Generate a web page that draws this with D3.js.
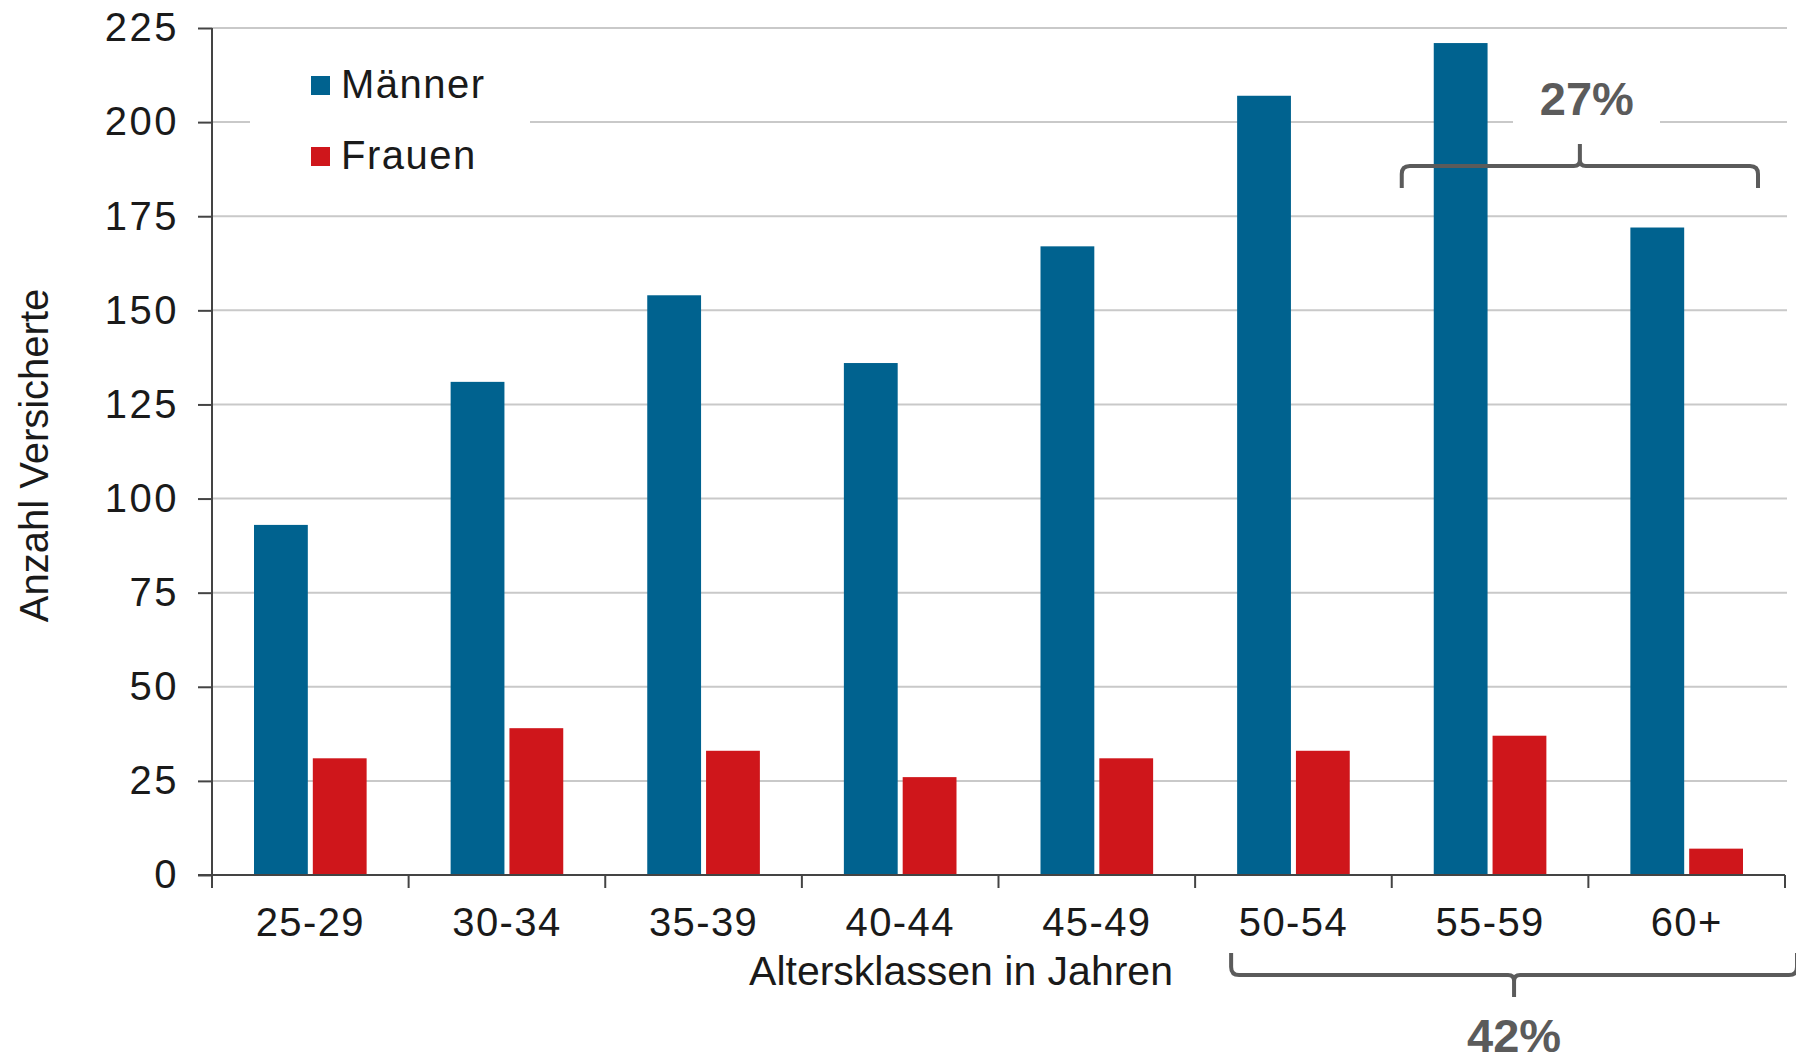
<!DOCTYPE html>
<html>
<head>
<meta charset="utf-8">
<script src="https://cdn.jsdelivr.net/npm/d3@7"></script>
<style>
    body { margin: 0; background: #fff; }
    svg { display: block; }
    text { font-family: Arial, "Liberation Sans", sans-serif; fill: #1a1a1a; }
</style>
</head>
<body>
<div id="chart"></div>
<script>
'use strict';

// Data
const ageGroups = ['25-29', '30-34', '35-39', '40-44', '45-49', '50-54', '55-59', '60+'];
const seriesNames = ['Männer', 'Frauen'];
const maenner = [93, 131, 154, 136, 167, 207, 221, 172];
const frauen = [31, 39, 33, 26, 31, 33, 37, 7];
const yTicks = [0, 25, 50, 75, 100, 125, 150, 175, 200, 225];
const bracketLabels = ['27%', '42%'];
const bracketFrom = ['55-59', '50-54'];
const bracketTo = ['60+', '60+'];

// Config
const svgW = 1796;
const svgH = 1054;
const margin = {top: 28, right: 11, bottom: 179, left: 212};
const colors = {'Männer': '#00628f', 'Frauen': '#cf161b'};

const svg = d3.select('#chart')
    .append('svg')
    .attr('width', svgW)
    .attr('height', svgH);

// Scales
const x = d3.scaleBand()
    .domain(ageGroups)
    .range([margin.left, svgW - margin.right]);
const bw = x.bandwidth();
const xInner = d3.scaleBand()
    .domain(seriesNames)
    .range([42, bw - 42])
    .paddingInner(0.085);
const y = d3.scaleLinear()
    .domain([0, 225])
    .range([svgH - margin.bottom, margin.top]);

// Gridlines
svg.append('g')
    .attr('class', 'grid')
    .selectAll('line')
    .data(yTicks.filter(d => d > 0))
    .join('line')
    .attr('x1', margin.left)
    .attr('x2', svgW - margin.right + 2)
    .attr('y1', d => y(d))
    .attr('y2', d => y(d))
    .attr('stroke', '#c9c9c9')
    .attr('stroke-width', 2);

// Bars
const rows = ageGroups.map((g, i) => ({group: g, values: [
    {key: 'Männer', value: maenner[i]},
    {key: 'Frauen', value: frauen[i]}
]}));
svg.append('g')
    .selectAll('g')
    .data(rows)
    .join('g')
    .attr('transform', d => `translate(${x(d.group)},0)`)
    .selectAll('rect')
    .data(d => d.values)
    .join('rect')
    .attr('x', d => xInner(d.key))
    .attr('width', xInner.bandwidth())
    .attr('y', d => y(d.value))
    .attr('height', d => y(0) - y(d.value))
    .attr('fill', d => colors[d.key]);

// Y axis
const yAxis = svg.append('g')
    .attr('transform', `translate(${margin.left},0)`)
    .call(d3.axisLeft(y).tickValues(yTicks).tickSize(14).tickPadding(19));
yAxis.select('.domain').attr('stroke', '#444').attr('stroke-width', 2)
    .attr('d', `M0,${y(225)}V${y(0) + 12}`);
yAxis.selectAll('.tick line').attr('stroke', '#444').attr('stroke-width', 2);
yAxis.selectAll('.tick text')
    .style('font-size', '40px')
    .style('letter-spacing', '2.5px')
    .style('font-family', 'Arial, "Liberation Sans", sans-serif')
    .attr('fill', '#1a1a1a');

// X axis
const xAxis = svg.append('g')
    .attr('transform', `translate(0,${y(0)})`)
    .call(d3.axisBottom(x).tickSize(0).tickPadding(33));
xAxis.select('.domain').attr('stroke', '#444').attr('stroke-width', 2)
    .attr('d', `M${margin.left - 14},0H${svgW - margin.right}`);
xAxis.selectAll('.sep')
    .data(ageGroups.concat(['end']))
    .join('line')
    .attr('class', 'sep')
    .attr('x1', d => d === 'end' ? x.range()[1] : x(d))
    .attr('x2', d => d === 'end' ? x.range()[1] : x(d))
    .attr('y1', 0)
    .attr('y2', 13)
    .attr('stroke', '#444')
    .attr('stroke-width', 2);
xAxis.selectAll('.tick text')
    .style('font-size', '40px')
    .style('letter-spacing', '1.4px')
    .style('font-family', 'Arial, "Liberation Sans", sans-serif')
    .attr('fill', '#1a1a1a');

// Axis titles
svg.append('text')
    .attr('transform', `translate(48,${(y(0) + y(225)) / 2 + 4}) rotate(-90)`)
    .attr('text-anchor', 'middle')
    .style('font-size', '40px')
    .text('Anzahl Versicherte');
svg.append('text')
    .attr('x', 961)
    .attr('y', 985)
    .attr('text-anchor', 'middle')
    .style('font-size', '41px')
    .text('Altersklassen in Jahren');

// Legend
const legend = svg.append('g').attr('transform', 'translate(250,45)');
legend.append('rect')
    .attr('width', 280)
    .attr('height', 150)
    .attr('fill', '#fff');
const legendItems = legend.selectAll('.legendItem')
    .data(seriesNames)
    .join('g')
    .attr('class', 'legendItem')
    .attr('transform', (d, i) => `translate(61,${31 + i * 71})`);
legendItems.append('rect')
    .attr('width', 19)
    .attr('height', 19)
    .attr('fill', d => colors[d]);
legendItems.append('text')
    .attr('x', 30)
    .attr('y', 22)
    .style('font-size', '40px')
    .style('letter-spacing', '1.5px')
    .text(d => d);

// Brackets
const bracketColor = '#5b5b5b';
bracketLabels.forEach((label, i) => {
    const x0 = i === 0 ? x(bracketFrom[i]) + 10 : x(bracketFrom[i]) + 36;
    const x1 = i === 0 ? x(bracketTo[i]) + bw - 27 : x(bracketTo[i]) + bw + 12;
    const cx = (x0 + x1) / 2;
    const up = i === 0;               // top bracket opens downward
    const yl = up ? 166 : 975;        // horizontal line
    const dir = up ? 1 : -1;          // direction of the end legs
    const legEnd = yl + dir * 22;
    const spikeEnd = yl - dir * 22;
    const r = 8;
    const path = `M${x0},${legEnd}` +
        `V${yl + dir * r}Q${x0},${yl} ${x0 + r},${yl}` +
        `H${cx - 6}Q${cx},${yl} ${cx},${yl - dir * 6}V${spikeEnd}` +
        `M${cx},${yl - dir * 6}Q${cx},${yl} ${cx + 6},${yl}` +
        `H${x1 - r}Q${x1},${yl} ${x1},${yl + dir * r}V${legEnd}`;
    if (up) {
        svg.append('rect')
            .attr('x', 1513)
            .attr('y', 60)
            .attr('width', 147)
            .attr('height', 70)
            .attr('fill', '#fff');
    }
    svg.append('path')
        .attr('d', path)
        .attr('fill', 'none')
        .attr('stroke', bracketColor)
        .attr('stroke-width', 4);
    svg.append('text')
        .attr('x', cx + (up ? 7 : 0))
        .attr('y', up ? 115 : 1052)
        .attr('text-anchor', 'middle')
        .style('font-size', '47px')
        .style('font-weight', 'bold')
        .style('fill', bracketColor)
        .text(label);
});
</script>
</body>
</html>
